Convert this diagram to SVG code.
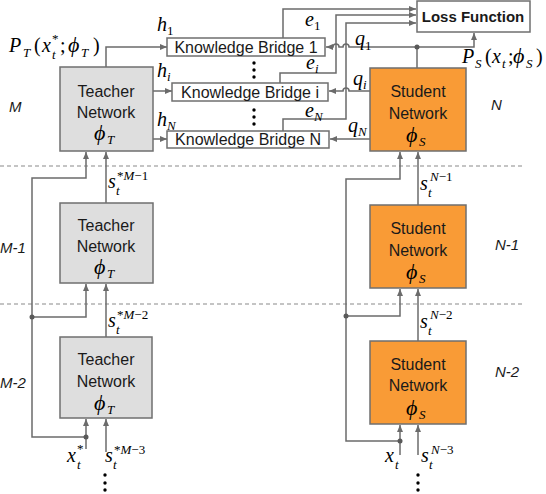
<svg xmlns="http://www.w3.org/2000/svg" width="546" height="494" viewBox="0 0 546 494">
<style>
.box{stroke:#6f6f6f;stroke-width:1.5}
.teacher{fill:#dedede}
.student{fill:#f99b36}
.white{fill:#ffffff}
.ln{fill:none;stroke:#6b6b6b;stroke-width:1.5}
.dash{fill:none;stroke:#8a8a8a;stroke-width:1.2;stroke-dasharray:4 3}
.t{font-family:"Liberation Sans","Noto Sans",sans-serif;font-size:16px;fill:#1a1a1a}
.c{text-anchor:middle}
.b{font-weight:bold;font-size:15px}
.lay{font-family:"Liberation Sans","Noto Sans",sans-serif;font-style:italic;font-size:15px;fill:#1a1a1a}
.m{font-family:"Liberation Serif","DejaVu Serif",serif;font-style:italic;font-size:20px;fill:#000}
.ph{font-size:22px}
.u{font-style:normal}
.s{font-size:13px}
.dot{fill:#595959}
.ell{fill:#000}
</style>
<defs>
<marker id="ar" markerUnits="userSpaceOnUse" markerWidth="8" markerHeight="8" refX="7" refY="4" orient="auto">
<path d="M0,1 L7,4 L0,7 Z" fill="#6b6b6b"/>
</marker>
</defs>

<!-- dashed separators -->
<line class="dash" x1="0" y1="166" x2="522" y2="166"/>
<line class="dash" x1="0" y1="304" x2="524" y2="304"/>

<!-- layer labels -->
<text class="lay" x="9" y="112">M</text>
<text class="lay" x="491" y="110">N</text>
<text class="lay" x="0" y="253">M-1</text>
<text class="lay" x="495" y="250">N-1</text>
<text class="lay" x="0" y="388">M-2</text>
<text class="lay" x="495" y="377">N-2</text>

<g id="connectors">
<!-- teacher inputs -->
<path class="ln" d="M86,449 V419" marker-end="url(#ar)"/>
<path class="ln" d="M86,437 H32 V178 H86 V152" marker-end="url(#ar)"/>
<path class="ln" d="M32,317 H86 V284" marker-end="url(#ar)"/>
<path class="ln" d="M106,452 V419" marker-end="url(#ar)"/>
<path class="ln" d="M106,337 V284" marker-end="url(#ar)"/>
<path class="ln" d="M106,203 V152" marker-end="url(#ar)"/>
<!-- teacher to bridges -->
<path class="ln" d="M106,67 V47 H167" marker-end="url(#ar)"/>
<path class="ln" d="M153,91 H172" marker-end="url(#ar)"/>
<path class="ln" d="M153,139 H167" marker-end="url(#ar)"/>
<!-- student inputs -->
<path class="ln" d="M400,455 V425" marker-end="url(#ar)"/>
<path class="ln" d="M400,441 H346 V179 H400 V152" marker-end="url(#ar)"/>
<path class="ln" d="M346,316 H400 V289" marker-end="url(#ar)"/>
<path class="ln" d="M418,455 V425" marker-end="url(#ar)"/>
<path class="ln" d="M418,341 V289" marker-end="url(#ar)"/>
<path class="ln" d="M418,205 V152" marker-end="url(#ar)"/>
<!-- student outputs -->
<path class="ln" d="M417,68 V47"/>
<path class="ln" d="M417,47 H474 V33" marker-end="url(#ar)"/>
<path class="ln" d="M417,47 H349 A3,3 0 0 0 343,47 H339 A3,3 0 0 0 333,47 H326" marker-end="url(#ar)"/>
<path class="ln" d="M370,91 H349 A3,3 0 0 0 343,91 H329" marker-end="url(#ar)"/>
<path class="ln" d="M370,139 H330" marker-end="url(#ar)"/>
<!-- bridges to loss -->
<path class="ln" d="M283,38 V9 H416" marker-end="url(#ar)"/>
<path class="ln" d="M280,83 V73 H336 V15 H416" marker-end="url(#ar)"/>
<path class="ln" d="M283,131 V119 H346 V23 H416" marker-end="url(#ar)"/>
<!-- junction dots -->
<circle class="dot" cx="86" cy="437" r="2.5"/>
<circle class="dot" cx="32" cy="317" r="2.5"/>
<circle class="dot" cx="400" cy="441" r="2.5"/>
<circle class="dot" cx="346" cy="316" r="2.5"/>
<circle class="dot" cx="417" cy="47" r="2.5"/>
</g>

<!-- teacher networks -->
<g id="teacher1">
<rect class="box teacher" x="60" y="67" width="93" height="84"/>
<text class="t c" x="106" y="97">Teacher</text>
<text class="t c" x="106" y="118">Network</text>
<text class="m ph" x="94" y="140">ϕ</text><text class="m s" x="107" y="144">T</text>
</g>
<g id="teacher2">
<rect class="box teacher" x="60" y="203" width="93" height="80"/>
<text class="t c" x="106" y="231">Teacher</text>
<text class="t c" x="106" y="252">Network</text>
<text class="m ph" x="94" y="274">ϕ</text><text class="m s" x="107" y="278">T</text>
</g>
<g id="teacher3">
<rect class="box teacher" x="60" y="337" width="92" height="81"/>
<text class="t c" x="106" y="365">Teacher</text>
<text class="t c" x="106" y="387">Network</text>
<text class="m ph" x="94" y="410">ϕ</text><text class="m s" x="107" y="414">T</text>
</g>

<!-- student networks -->
<g id="student1">
<rect class="box student" x="370" y="68" width="96" height="83"/>
<text class="t c" x="418" y="97">Student</text>
<text class="t c" x="418" y="119">Network</text>
<text class="m ph" x="406" y="142">ϕ</text><text class="m s" x="419" y="146">S</text>
</g>
<g id="student2">
<rect class="box student" x="370" y="205" width="96" height="83"/>
<text class="t c" x="418" y="234">Student</text>
<text class="t c" x="418" y="256">Network</text>
<text class="m ph" x="406" y="279">ϕ</text><text class="m s" x="419" y="283">S</text>
</g>
<g id="student3">
<rect class="box student" x="370" y="341" width="96" height="83"/>
<text class="t c" x="418" y="370">Student</text>
<text class="t c" x="418" y="391">Network</text>
<text class="m ph" x="406" y="415">ϕ</text><text class="m s" x="419" y="419">S</text>
</g>

<!-- knowledge bridges -->
<g id="bridge1">
<rect class="box white" x="167" y="38" width="158" height="18"/>
<text class="t c" x="246" y="53">Knowledge Bridge 1</text>
</g>
<g id="bridgei">
<rect class="box white" x="172" y="83" width="156" height="18"/>
<text class="t c" x="250" y="98">Knowledge Bridge i</text>
</g>
<g id="bridgeN">
<rect class="box white" x="167" y="131" width="162" height="17"/>
<text class="t c" x="248" y="145">Knowledge Bridge N</text>
</g>

<!-- loss function -->
<g id="loss">
<rect class="box white" x="417" y="1" width="113" height="31"/>
<text class="t c b" x="473" y="22">Loss Function</text>
</g>

<!-- ellipses -->
<circle class="ell" cx="254" cy="63" r="1.7"/><circle class="ell" cx="254" cy="70" r="1.7"/><circle class="ell" cx="254" cy="77" r="1.7"/>
<circle class="ell" cx="254" cy="110" r="1.7"/><circle class="ell" cx="254" cy="117" r="1.7"/><circle class="ell" cx="254" cy="124" r="1.7"/>
<circle class="ell" cx="105" cy="475" r="1.7"/><circle class="ell" cx="105" cy="483" r="1.7"/><circle class="ell" cx="105" cy="490" r="1.7"/>
<circle class="ell" cx="418" cy="475" r="1.7"/><circle class="ell" cx="418" cy="483" r="1.7"/><circle class="ell" cx="418" cy="490" r="1.7"/>

<!-- math labels -->
<!-- P_T(x_t^*; phi_T) -->
<text class="m" x="9" y="52">P</text><text class="m s" x="23" y="57">T</text>
<text class="m u" x="34" y="52">(</text>
<text class="m" x="42" y="52">x</text><text class="m s" x="52" y="59">t</text><text class="m s u" x="52" y="43">*</text>
<text class="m u" x="60" y="52">;</text>
<text class="m ph" x="68" y="52">ϕ</text><text class="m s" x="81" y="57">T</text>
<text class="m u" x="93" y="52">)</text>

<text class="m" x="157" y="31">h</text><text class="m s u" x="167" y="35">1</text>
<text class="m" x="157" y="77">h</text><text class="m s" x="167" y="81">i</text>
<text class="m" x="157" y="126">h</text><text class="m s" x="167" y="130">N</text>

<text class="m" x="305" y="26">e</text><text class="m s u" x="314" y="30">1</text>
<text class="m" x="306" y="69">e</text><text class="m s" x="315" y="73">i</text>
<text class="m" x="305" y="117">e</text><text class="m s" x="314" y="121">N</text>

<text class="m" x="355" y="45">q</text><text class="m s u" x="365" y="50">1</text>
<text class="m" x="353" y="85">q</text><text class="m s" x="363" y="89">i</text>
<text class="m" x="348" y="132">q</text><text class="m s" x="358" y="136">N</text>

<!-- P_S(x_t; phi_S) -->
<text class="m" x="462" y="63">P</text><text class="m s" x="475" y="68">S</text>
<text class="m u" x="485" y="63">(</text>
<text class="m" x="492" y="63">x</text><text class="m s" x="502" y="68">t</text>
<text class="m u" x="508" y="63">;</text>
<text class="m ph" x="513" y="63">ϕ</text><text class="m s" x="526" y="68">S</text>
<text class="m u" x="536" y="63">)</text>

<!-- teacher state labels -->
<text class="m" x="108" y="188">s</text><text class="m s" x="116" y="195">t</text><text class="m s u" x="117" y="180">*<tspan font-style="italic">M</tspan>−1</text>
<text class="m" x="108" y="327">s</text><text class="m s" x="116" y="334">t</text><text class="m s u" x="117" y="319">*<tspan font-style="italic">M</tspan>−2</text>
<text class="m" x="105" y="462">s</text><text class="m s" x="113" y="469">t</text><text class="m s u" x="114" y="454">*<tspan font-style="italic">M</tspan>−3</text>
<text class="m" x="67" y="462">x</text><text class="m s" x="77" y="469">t</text><text class="m s u" x="77" y="453">*</text>

<!-- student state labels -->
<text class="m" x="420" y="190">s</text><text class="m s" x="428" y="197">t</text><text class="m s" x="430" y="181">N<tspan font-style="normal">−1</tspan></text>
<text class="m" x="420" y="328">s</text><text class="m s" x="428" y="335">t</text><text class="m s" x="430" y="319">N<tspan font-style="normal">−2</tspan></text>
<text class="m" x="421" y="462">s</text><text class="m s" x="429" y="469">t</text><text class="m s" x="431" y="454">N<tspan font-style="normal">−3</tspan></text>
<text class="m" x="385" y="462">x</text><text class="m s" x="395" y="469">t</text>
</svg>
